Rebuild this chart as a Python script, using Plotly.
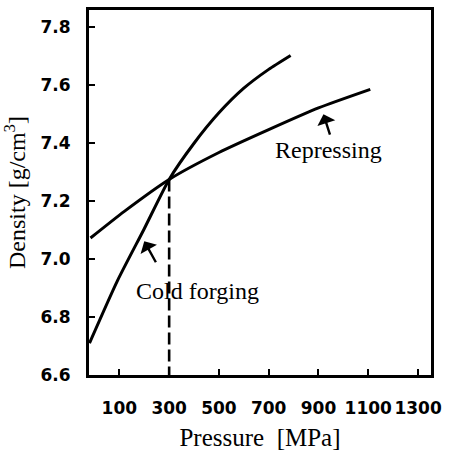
import plotly.graph_objects as go

# Pressure [MPa] and density [g/cm^3] for each process
cold_forging_p = [-20, 92, 200, 300, 400, 500, 600, 700, 788]
cold_forging_d = [6.710, 6.925, 7.105, 7.275, 7.400, 7.505, 7.590, 7.655, 7.703]

repressing_p = [-16, 120, 300, 500, 700, 900, 1108]
repressing_d = [7.073, 7.165, 7.275, 7.368, 7.447, 7.522, 7.586]

# Common point of both curves, marked by a dashed drop line
cross_p = 300
cross_d = 7.275

x_ticks = [100, 300, 500, 700, 900, 1100, 1300]
y_ticks = [6.6, 6.8, 7.0, 7.2, 7.4, 7.6, 7.8]

line_style = dict(color="black", width=3, shape="spline", smoothing=0.6)

fig = go.Figure()
fig.add_trace(go.Scatter(x=cold_forging_p, y=cold_forging_d, mode="lines",
                         line=line_style, name="Cold forging", showlegend=False))
fig.add_trace(go.Scatter(x=repressing_p, y=repressing_d, mode="lines",
                         line=line_style, name="Repressing", showlegend=False))
fig.add_trace(go.Scatter(x=[cross_p, cross_p], y=[cross_d, 6.6], mode="lines",
                         line=dict(color="black", width=2.6, dash="12px,5px"),
                         showlegend=False))

serif = "Liberation Serif, Times New Roman, serif"
sans = "DejaVu Sans, Arial, sans-serif"

fig.add_annotation(x=940, y=7.377, text="Repressing", showarrow=False,
                   font=dict(family=serif, size=24, color="black"))
fig.add_annotation(x=920, y=7.50, ax=948, ay=7.425, xref="x", yref="y",
                   axref="x", ayref="y", text="", showarrow=True,
                   arrowhead=1, arrowsize=1.3, arrowwidth=2.4, arrowcolor="black")

fig.add_annotation(x=412, y=6.891, text="Cold forging", showarrow=False,
                   font=dict(family=serif, size=24, color="black"))
fig.add_annotation(x=200, y=7.062, ax=250, ay=6.984, xref="x", yref="y",
                   axref="x", ayref="y", text="", showarrow=True,
                   arrowhead=1, arrowsize=1.3, arrowwidth=2.4, arrowcolor="black")

axis_common = dict(showline=True, linecolor="black", linewidth=3, mirror=True,
                   ticks="inside", ticklen=6, tickwidth=2.4, tickcolor="black",
                   showgrid=False, zeroline=False,
                   tickfont=dict(family=sans, size=17, color="black", weight="bold"))

fig.update_xaxes(range=[-22, 1352], tickvals=x_ticks,
                 ticktext=[str(v) for v in x_ticks],
                 title=dict(text="Pressure  [MPa]", standoff=12,
                            font=dict(family=serif, size=25, color="black")),
                 ticklabelstandoff=16, **axis_common)
fig.update_yaxes(range=[6.6, 7.86], tickvals=y_ticks,
                 ticktext=[f"{v:.1f}" for v in y_ticks],
                 title=dict(text="Density [g/cm<sup>3</sup>]", standoff=10,
                            font=dict(family=serif, size=24, color="black")),
                 ticklabelstandoff=12, **axis_common)

fig.update_layout(width=449, height=455, margin=dict(l=89, r=16, t=7, b=80),
                  plot_bgcolor="white", paper_bgcolor="white")

fig.write_html("out.html")
